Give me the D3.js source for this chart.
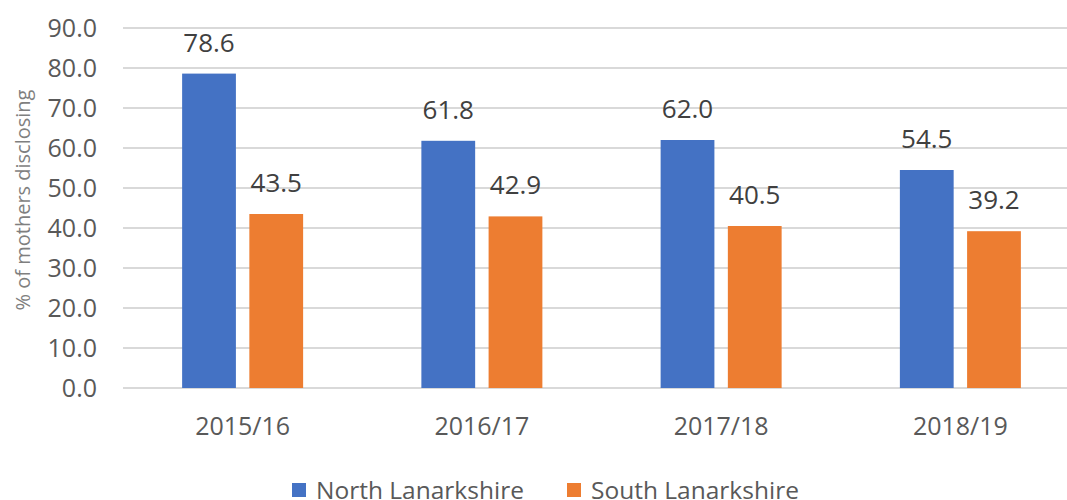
<!DOCTYPE html>
<html lang="en">
<head>
<meta charset="UTF-8">
<script src="https://d3js.org/d3.v7.min.js"></script>
<title>Mothers disclosing</title>
<style>
    body { margin: 0; background: #fff; }
    svg { display: block; font-family: "Open Sans", "Noto Sans", sans-serif; }
    .grid line { stroke: #d9d9d9; stroke-width: 2px; }
    .tick-label { fill: #595959; font-size: 25px; }
    .value-label { fill: #404040; font-size: 26px; text-anchor: middle; }
    .axis-title { fill: #7f7f7f; font-size: 20px; }
    .legend-label { fill: #595959; font-size: 24.5px; }
</style>
</head>
<body>
<div id="chart"></div>
<script>
    // data
    var years = ["2015/16", "2016/17", "2017/18", "2018/19"];
    var seriesNames = ["North Lanarkshire", "South Lanarkshire"];
    var north = [78.6, 61.8, 62.0, 54.5];
    var south = [43.5, 42.9, 40.5, 39.2];
    var yTicks = [0, 10, 20, 30, 40, 50, 60, 70, 80, 90];
    var colors = ["#4472c4", "#ed7d31"];

    var width = 1067, height = 500;

    var svg = d3.select("#chart").append("svg")
        .attr("width", width)
        .attr("height", height);

    // scales
    var x = d3.scaleBand().domain(years).range([123, 1080]);
    var inner = d3.scaleBand().domain(seriesNames)
        .range([x.bandwidth() / 2 - 60.5, x.bandwidth() / 2 + 60.5])
        .paddingInner(0.2);
    var y = d3.scaleLinear().domain([0, 90]).range([388, 28]);

    // gridlines
    svg.append("g").attr("class", "grid")
        .selectAll("line").data(yTicks).enter().append("line")
        .attr("x1", 123).attr("x2", width)
        .attr("y1", function (d) { return y(d); })
        .attr("y2", function (d) { return y(d); });

    // y tick labels
    svg.append("g").selectAll("text").data(yTicks).enter().append("text")
        .attr("class", "tick-label")
        .attr("x", 97)
        .attr("y", function (d) { return y(d); })
        .attr("dy", "0.35em")
        .attr("text-anchor", "end")
        .text(function (d) { return d.toFixed(1); });

    // y axis title
    svg.append("text")
        .attr("class", "axis-title")
        .attr("transform", "translate(30,200) rotate(-90)")
        .attr("text-anchor", "middle")
        .text("% of mothers disclosing");

    // bars
    var rows = years.map(function (yr, i) {
        return { year: yr, values: [north[i], south[i]] };
    });

    var group = svg.selectAll(".year").data(rows).enter().append("g")
        .attr("class", "year")
        .attr("transform", function (d) { return "translate(" + x(d.year) + ",0)"; });

    var bar = group.selectAll(".bar")
        .data(function (d) {
            return d.values.map(function (v, j) { return { name: seriesNames[j], value: v, idx: j }; });
        })
        .enter().append("g").attr("class", "bar");

    bar.append("rect")
        .attr("x", function (d) { return inner(d.name); })
        .attr("width", inner.bandwidth())
        .attr("y", function (d) { return y(d.value); })
        .attr("height", function (d) { return y(0) - y(d.value); })
        .attr("fill", function (d) { return colors[d.idx]; });

    bar.append("text")
        .attr("class", "value-label")
        .attr("x", function (d) { return inner(d.name) + inner.bandwidth() / 2; })
        .attr("y", function (d) { return y(d.value) - 22; })
        .text(function (d) { return d.value.toFixed(1); });

    // x labels
    svg.append("g").selectAll("text").data(years).enter().append("text")
        .attr("class", "tick-label")
        .attr("x", function (d) { return x(d) + x.bandwidth() / 2; })
        .attr("y", 435)
        .attr("text-anchor", "middle")
        .text(function (d) { return d; });

    // legend
    var legendX = [292, 567];
    var legend = svg.append("g").selectAll("g").data(seriesNames).enter().append("g")
        .attr("transform", function (d, i) { return "translate(" + legendX[i] + ",483)"; });
    legend.append("rect")
        .attr("width", 14).attr("height", 14)
        .attr("fill", function (d, i) { return colors[i]; });
    legend.append("text")
        .attr("class", "legend-label")
        .attr("x", 24).attr("y", 16)
        .text(function (d) { return d; });
</script>
</body>
</html>
